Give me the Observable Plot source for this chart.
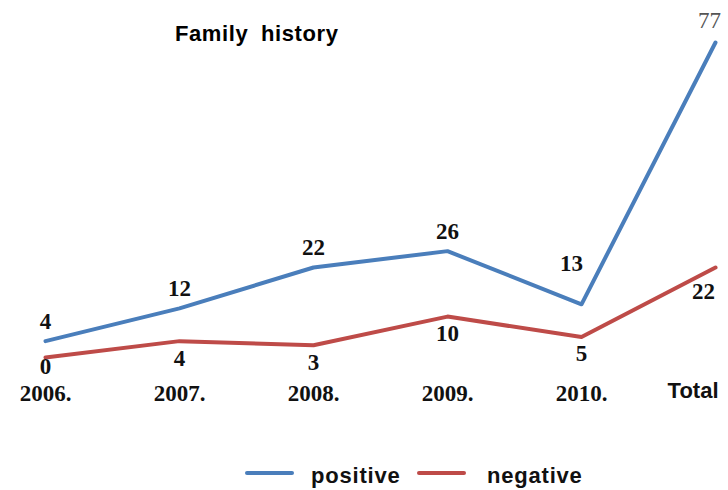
<!DOCTYPE html>
<html>
<head>
<meta charset="utf-8">
<script src="https://cdn.jsdelivr.net/npm/d3@7"></script>
<script src="https://cdn.jsdelivr.net/npm/@observablehq/plot@0.6"></script>
<style>
  html, body { margin: 0; padding: 0; background: #fff; }
  #wrap { position: relative; width: 728px; height: 490px; overflow: hidden; }
  #title { position: absolute; left: 175px; top: 21px; font: bold 22px "Liberation Sans", Arial, sans-serif; word-spacing: 6px; letter-spacing: 0.6px; color: #000; }
  #legend { position: relative; width: 728px; height: 50px; font: bold 22px "Liberation Sans", Arial, sans-serif; letter-spacing: 0.8px; color: #111; }
  .sw { position: absolute; height: 4px; border-radius: 2px; top: 31px; }
  .lab { position: absolute; top: 23px; line-height: 26px; }
</style>
</head>
<body>
<div id="wrap">
  <div id="chart"></div>
  <div id="title">Family history</div>
  <div id="legend"></div>
</div>
<script>
const categories = ["2006.", "2007.", "2008.", "2009.", "2010.", "Total"];
const positive = [4, 12, 22, 26, 13, 77];
const negative = [0, 4, 3, 10, 5, 22];
const seriesNames = ["positive", "negative"];
const seriesColors = ["#4A7EBB", "#BE4B48"];

const rows = [];
categories.forEach((c, i) => {
  rows.push({cat: c, series: "positive", value: positive[i]});
  rows.push({cat: c, series: "negative", value: negative[i]});
});
const pos = rows.filter(d => d.series === "positive");
const neg = rows.filter(d => d.series === "negative");

const serif = "'Liberation Serif', 'Times New Roman', serif";
const sans = "'Liberation Sans', Arial, sans-serif";
const valFont = {fontFamily: serif, fontWeight: "bold", fontSize: 23, fill: "#111", letterSpacing: 0.5};

const chart = Plot.plot({
  width: 728,
  height: 440,
  marginTop: 42,
  marginBottom: 83,
  marginLeft: 43,
  marginRight: 11,
  x: {type: "point", domain: categories, padding: 0, label: null},
  y: {domain: [0, 77], axis: null},
  color: {domain: seriesNames, range: seriesColors},
  marks: [
    Plot.lineY(rows, {x: "cat", y: "value", z: "series", stroke: "series", strokeWidth: 4, strokeLinejoin: "round", strokeLinecap: "round"}),
    // positive value labels
    Plot.text(pos.filter(d => d.cat !== "2010." && d.cat !== "Total"), {x: "cat", y: "value", text: d => String(d.value), dy: -20, ...valFont}),
    Plot.text(pos.filter(d => d.cat === "2010."), {x: "cat", y: "value", text: d => String(d.value), dx: -10, dy: -41, ...valFont}),
    Plot.text(pos.filter(d => d.cat === "Total"), {x: "cat", y: "value", text: d => String(d.value), dx: -6, dy: -22, fontFamily: serif, fontSize: 23, fill: "#555"}),
    // negative value labels
    Plot.text(neg.filter(d => d.cat !== "Total" && d.cat !== "2006."), {x: "cat", y: "value", text: d => String(d.value), dy: 17, ...valFont}),
    Plot.text(neg.filter(d => d.cat === "2006."), {x: "cat", y: "value", text: d => String(d.value), dy: 9, ...valFont}),
    Plot.text(neg.filter(d => d.cat === "Total"), {x: "cat", y: "value", text: d => String(d.value), dx: -12, dy: 24, ...valFont}),
    // x axis labels
    Plot.axisX(categories.slice(0, 5), {label: null, tickSize: 0, tickPadding: 27, fontFamily: serif, fontWeight: "bold", fontSize: 23, fill: "#111", letterSpacing: 2}),
    Plot.axisX(categories.slice(5), {label: null, tickSize: 0, tickPadding: 25, textAnchor: "end", dx: 3, fontFamily: sans, fontWeight: "bold", fontSize: 22, fill: "#111"})
  ],
  style: {background: "#fff", overflow: "visible"}
});
document.getElementById("chart").appendChild(chart);

// legend
const legend = document.getElementById("legend");
const swX = [245, 417];
const labX = [311, 487];
seriesNames.forEach((name, i) => {
  const sw = document.createElement("div");
  sw.className = "sw";
  sw.style.left = swX[i] + "px";
  sw.style.width = "49px";
  sw.style.background = seriesColors[i];
  legend.appendChild(sw);
  const lab = document.createElement("div");
  lab.className = "lab";
  lab.style.left = labX[i] + "px";
  lab.textContent = name;
  legend.appendChild(lab);
});
</script>
</body>
</html>
